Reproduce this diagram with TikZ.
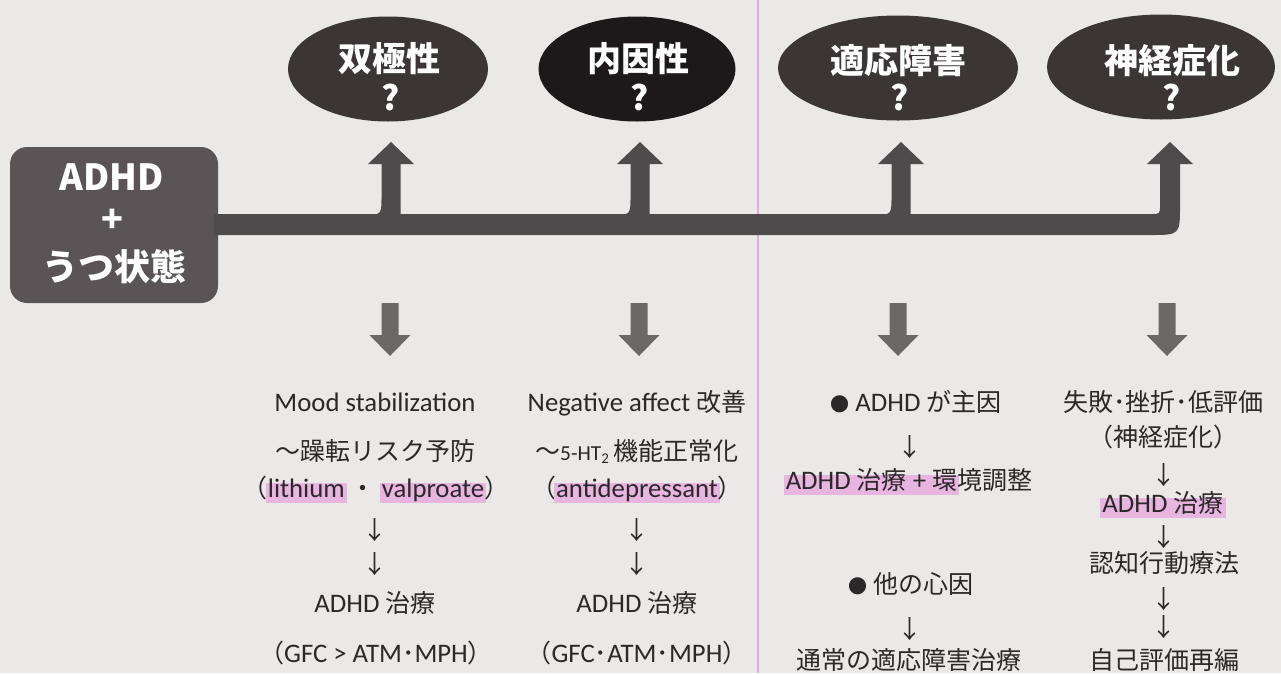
\documentclass[tikz,border=0pt]{standalone}
\usepackage{fontspec}
\setmainfont{Carlito}[Scale=1.07]
\newfontfamily\jp{Noto Sans CJK JP}
\usetikzlibrary{shapes.geometric}
\definecolor{paper}{HTML}{EBE9E8}
\definecolor{boxc}{HTML}{5A5456}
\definecolor{barc}{HTML}{4F4A4B}
\definecolor{ellc}{HTML}{3B3536}
\definecolor{elldark}{HTML}{1D191A}
\definecolor{downc}{HTML}{6C6868}
\definecolor{txt}{HTML}{2C2829}
\definecolor{hl}{HTML}{E8B4E0}
\definecolor{pinkline}{HTML}{DDB0D7}
\newcommand\J[1]{{\jp #1}}
\newcommand\bul{{\jp\fontsize{19}{19}\selectfont ●}}
\newcommand\mkhl[1]{\setbox0=\hbox{#1}\dimen0=\wd0 \advance\dimen0 by 4pt \kern-2pt\rlap{\textcolor{hl}{\rule[-0.22em]{\dimen0}{0.74em}}}\kern2pt\box0\relax}
\newcommand\upbranch[1]{\fill[barc] (#1-28,215) .. controls (#1-9.5,215) .. (#1-9.5,196) -- (#1-9.5,164) -- (#1-23,164) -- (#1,142) -- (#1+23,164) -- (#1+9.5,164) -- (#1+9.5,215) -- cycle;}
\newcommand\downblock[1]{\fill[downc] (#1-8.5,303) -- (#1+8.5,303) -- (#1+8.5,335) -- (#1+20.5,335) -- (#1,356) -- (#1-20.5,335) -- (#1-8.5,335) -- cycle;}
\begin{document}
\begin{tikzpicture}[x=1pt,y=-1pt,
  every node/.style={inner sep=0pt, outer sep=0pt},
  ellnode/.style={ellipse, fill=ellc, minimum height=105pt},
  headtxt/.style={anchor=base, text=white, font=\jp\bfseries\fontsize{34}{40}\selectfont},
  boxtxt/.style={anchor=base, text=white, font=\jp\bfseries\fontsize{36}{40}\selectfont},
  body/.style={anchor=base, text=txt, font=\fontsize{25}{30}\selectfont}]
\useasboundingbox (0,0) rectangle (1281,673);
\fill[paper] (0,0) rectangle (1281,673);
\draw[pinkline, line width=2pt] (758,0) -- (758,673);

% source box
\node[fill=boxc, rounded corners=17pt, minimum width=208pt, minimum height=156pt] (src) at (114,225) {};
\node[boxtxt] (s1) at (112,190) {ADHD};
\node[boxtxt] (s2) at (112,232) {+};
\node[boxtxt] (s3) at (114,280) {うつ状態};

% ellipses
\node[ellnode, minimum width=200pt] (e1) at (388,69) {};
\node[ellnode, minimum width=197pt, fill=elldark] (e2) at (637,69) {};
\node[ellnode, minimum width=240pt] (e3) at (898,68) {};
\node[ellnode, minimum width=228pt] (e4) at (1161,67) {};
\node[headtxt] (e1t) at (389,71) {双極性};
\node[headtxt] (e1q) at (391,110) {?};
\node[headtxt] (e2t) at (638,71) {内因性};
\node[headtxt] (e2q) at (640,110) {?};
\node[headtxt] (e3t) at (898,73) {適応障害};
\node[headtxt] (e3q) at (900,110) {?};
\node[headtxt] (e4t) at (1172,73) {神経症化};
\node[headtxt] (e4q) at (1172,110) {?};

% main bar with final upward arrow
\fill[barc] ([xshift=-4pt]src.east |- 0,214) -- (1151,214) .. controls (1160,214) .. (1160,205) -- (1160,164) -- (1147,164) -- (1170,142) -- (1193,164) -- (1180,164) -- (1180,205) .. controls (1180,235) .. (1150,235) -- ([xshift=-4pt]src.east |- 0,235) -- cycle;
\upbranch{391}
\upbranch{640}
\upbranch{901}

% down block arrows
\downblock{390}
\downblock{639}
\downblock{898}
\downblock{1167}

% column 1
\node[body] (a1) at (375,411) {Mood stabilization};
\node[body] (a2) at (375,460) {\J{～躁転リスク予防}};
\node[body] (a3) at (376,497) {\J{（}\mkhl{lithium} \J{・} \mkhl{valproate}\J{）}};
\node[body] (a4) at (375,539) {\J{↓}};
\node[body] (a5) at (375,573) {\J{↓}};
\node[body] (a6) at (375,612) {ADHD \J{治療}};
\node[body] (a7) at (376,662) {\J{（}GFC > ATM\J{･}MPH\J{）}};

% column 2
\node[body] (b1) at (637,411) {Negative affect \J{改善}};
\node[body] (b2) at (637,460) {\J{～}{\fontsize{20}{20}\selectfont 5-HT\textsubscript{2}}\,\J{機能正常化}};
\node[body] (b3) at (637,497) {\J{（}\mkhl{antidepressant}\J{）}};
\node[body] (b4) at (637,539) {\J{↓}};
\node[body] (b5) at (637,573) {\J{↓}};
\node[body] (b6) at (637,612) {ADHD \J{治療}};
\node[body] (b7) at (637,662) {\J{（}GFC\J{･}ATM\J{･}MPH\J{）}};

% column 3
\node[body] (c1) at (916,411) {\bul{} ADHD \J{が主因}};
\node[body] (c2) at (910,456) {\J{↓}};
\node[body] (c3) at (909,489) {\mkhl{ADHD \J{治療} + \J{環}}\J{境調整}};
\node[body] (c4) at (911,593) {\bul{} \J{他の心因}};
\node[body] (c5) at (910,638) {\J{↓}};
\node[body] (c6) at (909,669) {\J{通常の適応障害治療}};

% column 4
\node[body] (d1) at (1163,411) {\J{失敗･挫折･低評価}};
\node[body] (d2) at (1163,446) {\J{（神経症化）}};
\node[body] (d3) at (1164,484) {\J{↓}};
\node[body] (d4) at (1163,512) {\mkhl{ADHD \J{治療}}};
\node[body] (d5) at (1164,546) {\J{↓}};
\node[body] (d6) at (1164,572) {\J{認知行動療法}};
\node[body] (d7) at (1164,608) {\J{↓}};
\node[body] (d8) at (1164,636) {\J{↓}};
\node[body] (d9) at (1164,669) {\J{自己評価再編}};
\end{tikzpicture}
\end{document}
